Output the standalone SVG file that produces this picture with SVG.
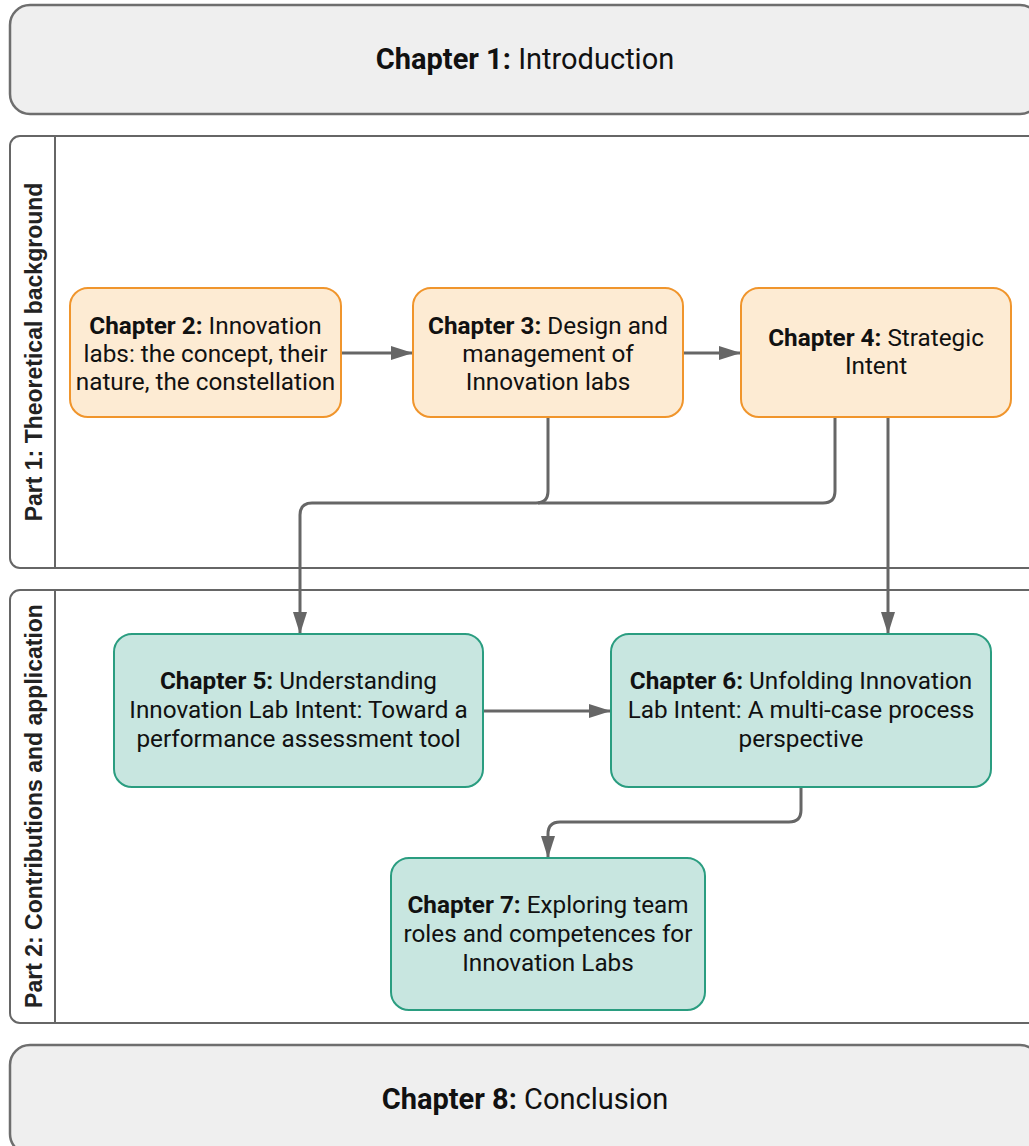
<svg xmlns="http://www.w3.org/2000/svg" width="1029" height="1146" viewBox="0 0 1029 1146">
<defs>
<marker id="ah" viewBox="0 0 22 14" refX="22" refY="7" markerWidth="22" markerHeight="14" markerUnits="userSpaceOnUse" orient="auto">
<path d="M0,0 L22,7 L0,14 Z" fill="#666666"/>
</marker>
<style>
.big{fill:#efefef;stroke:#6e6e6e;stroke-width:2.5}
.lane{fill:#ffffff;stroke:#666666;stroke-width:2}
.or{fill:#fdebd3;stroke:#f0952c;stroke-width:2}
.tl{fill:#c8e6e0;stroke:#2a9d80;stroke-width:2}
text{font-family:Roboto,"Liberation Sans",sans-serif;fill:#111111;text-anchor:middle}
.t{font-size:24.3px}
.h{font-size:29px}
.b{font-weight:bold}
.lt{font-family:"Liberation Sans",Arial,sans-serif;font-weight:bold;font-size:23px;fill:#222}
.c{fill:none;stroke:#666666;stroke-width:3;marker-end:url(#ah)}
.cn{fill:none;stroke:#666666;stroke-width:3}
</style>
</defs>
<g id="ch1"><rect class="big" x="10" y="5" width="1030" height="109" rx="20"/>
<text class="h" x="525" y="69"><tspan class="b">Chapter 1:</tspan> Introduction</text></g>
<g id="part1"><rect class="lane" x="10" y="136" width="1040" height="432" rx="10"/>
<line x1="55" y1="136" x2="55" y2="568" stroke="#666" stroke-width="2"/>
<text class="lt" transform="translate(42,352) rotate(-90)">Part 1: Theoretical background</text></g>
<g id="part2"><rect class="lane" x="10" y="590" width="1040" height="433" rx="10"/>
<line x1="55" y1="590" x2="55" y2="1023" stroke="#666" stroke-width="2"/>
<text class="lt" transform="translate(42,806) rotate(-90)">Part 2: Contributions and application</text></g>
<g id="ch8"><rect class="big" x="10" y="1045" width="1030" height="109" rx="20"/>
<text class="h" x="525" y="1109"><tspan class="b">Chapter 8:</tspan> Conclusion</text></g>
<g id="connectors">
<path class="c" d="M341,353 H413"/>
<path class="c" d="M683,353 H741"/>
<path class="c" d="M548,417 V491 Q548,503 536,503 H312 Q300,503 300,515 V634"/>
<path class="cn" d="M835,417 V491 Q835,503 823,503 H538"/>
<path class="c" d="M888,417 V634"/>
<path class="c" d="M483,711 H611"/>
<path class="c" d="M801,787 V810 Q801,822 789,822 H560 Q548,822 548,834 V858"/>
</g>
<g id="ch2"><rect class="or" x="70" y="288" width="271" height="129" rx="18"/>
<text class="t" x="205.5" y="334"><tspan class="b">Chapter 2:</tspan> Innovation</text>
<text class="t" x="205.5" y="362">labs: the concept, their</text>
<text class="t" x="205.5" y="390">nature, the constellation</text></g>
<g id="ch3"><rect class="or" x="413" y="288" width="270" height="129" rx="18"/>
<text class="t" x="548" y="334"><tspan class="b">Chapter 3:</tspan> Design and</text>
<text class="t" x="548" y="362">management of</text>
<text class="t" x="548" y="390">Innovation labs</text></g>
<g id="ch4"><rect class="or" x="741" y="288" width="270" height="129" rx="18"/>
<text class="t" x="876" y="346"><tspan class="b">Chapter 4:</tspan> Strategic</text>
<text class="t" x="876" y="374">Intent</text></g>
<g id="ch5"><rect class="tl" x="114" y="634" width="369" height="153" rx="18"/>
<text class="t" x="298.5" y="689"><tspan class="b">Chapter 5:</tspan> Understanding</text>
<text class="t" x="298.5" y="718">Innovation Lab Intent: Toward a</text>
<text class="t" x="298.5" y="747">performance assessment tool</text></g>
<g id="ch6"><rect class="tl" x="611" y="634" width="380" height="153" rx="18"/>
<text class="t" x="801" y="689"><tspan class="b">Chapter 6:</tspan> Unfolding Innovation</text>
<text class="t" x="801" y="718">Lab Intent: A multi-case process</text>
<text class="t" x="801" y="747">perspective</text></g>
<g id="ch7"><rect class="tl" x="391" y="858" width="314" height="152" rx="18"/>
<text class="t" x="548" y="913"><tspan class="b">Chapter 7:</tspan> Exploring team</text>
<text class="t" x="548" y="942">roles and competences for</text>
<text class="t" x="548" y="971">Innovation Labs</text></g>
</svg>
